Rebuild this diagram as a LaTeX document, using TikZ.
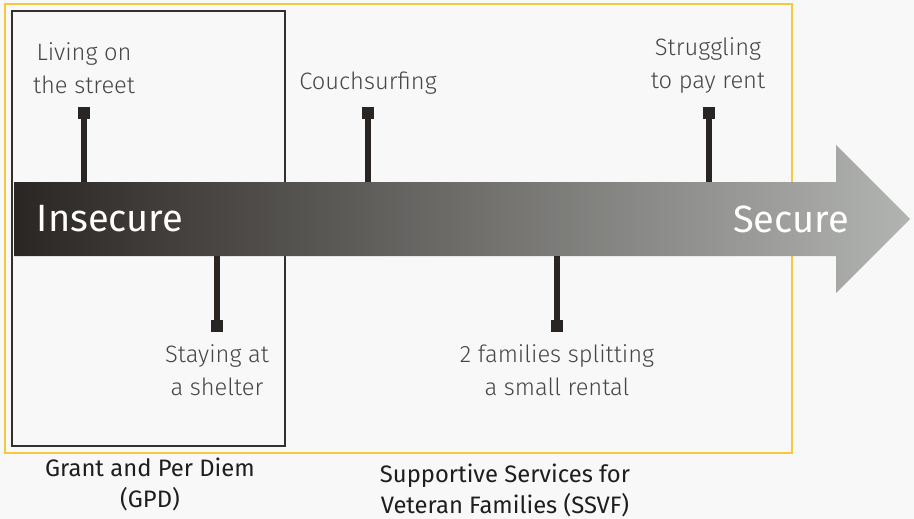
\documentclass[tikz,border=0pt]{standalone}
\usepackage{fontspec}
\setmainfont{Fira Sans}
\newfontfamily\lightfont{Fira Sans}[UprightFont={* Light}]
\usetikzlibrary{positioning}
\definecolor{paper}{RGB}{248,248,248}
\definecolor{ssvfC}{RGB}{248,200,60}
\definecolor{gpdC}{RGB}{50,48,46}
\definecolor{darkC}{RGB}{42,38,35}
\definecolor{lightC}{RGB}{178,180,178}
\definecolor{stemC}{RGB}{40,37,35}
\definecolor{labelgray}{RGB}{70,70,70}
\definecolor{captionC}{RGB}{30,30,30}

\tikzset{
  lbl/.style={font=\lightfont\fontsize{23.7}{33}\selectfont, text=labelgray, align=center},
  caption/.style={font=\fontsize{23.8}{31}\selectfont, text=captionC, align=center},
  pole/.style={font=\fontsize{38}{40}\selectfont, text=white},
  pin/.style={fill=stemC, minimum size=12pt, inner sep=0pt},
  stem/.style={stemC, line width=6pt}
}

\begin{document}
\begin{tikzpicture}[x=1pt, y=-1pt]
\useasboundingbox (0,0) rectangle (914,519);
\fill[paper] (0,0) rectangle (914,519);

% program boxes
\draw[ssvfC, line width=2pt] (5,4) rectangle (792,453);
\draw[gpdC, line width=2pt] (12,11) rectangle (285,446);

% insecure -> secure arrow
\shade[left color=darkC, right color=lightC]
  (14,182) -- (836,182) -- (836,145) -- (910,219) -- (836,293) -- (836,256) -- (14,256) -- cycle;
\node[pole] (insecure) at (110,219) {Insecure};
\node[pole] (secure) at (791,219) {Secure};

% points above the arrow
\coordinate (streetBase) at (84,182);
\coordinate (couchBase) at (368,182);
\coordinate (rentBase) at (709,182);
\node[pin] (streetPin) at (84,113) {};
\node[pin] (couchPin) at (368,113) {};
\node[pin] (rentPin) at (709,113) {};
\draw[stem] (streetPin) -- (streetBase);
\draw[stem] (couchPin) -- (couchBase);
\draw[stem] (rentPin) -- (rentBase);
\node[lbl] (street) at (84,68) {Living on\\the street};
\node[lbl] (couch) at (368,83) {Couchsurfing};
\node[lbl] (rent) at (708,66) {Struggling\\to pay rent};

% points below the arrow
\coordinate (shelterBase) at (217,256);
\coordinate (rentalBase) at (557,256);
\node[pin] (shelterPin) at (217,326) {};
\node[pin] (rentalPin) at (557,326) {};
\draw[stem] (shelterPin) -- (shelterBase);
\draw[stem] (rentalPin) -- (rentalBase);
\node[lbl] (shelter) at (217,370) {Staying at\\a shelter};
\node[lbl] (rental) at (557,370) {2 families splitting\\a small rental};

% program names
\node[caption] (gpd) at (150,484) {Grant and Per Diem\\(GPD)};
\node[caption] (ssvf) at (505,490) {Supportive Services for\\Veteran Families (SSVF)};
\end{tikzpicture}
\end{document}
